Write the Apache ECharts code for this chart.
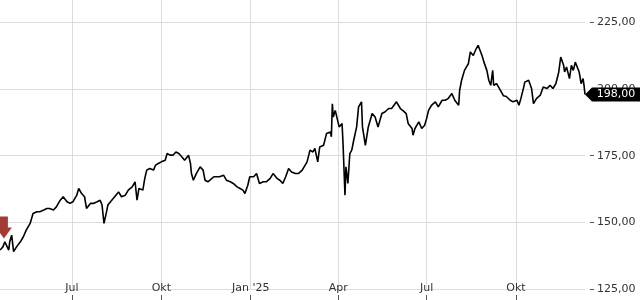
<!DOCTYPE html>
<html>
<head>
<meta charset="utf-8">
<script src="https://cdn.jsdelivr.net/npm/echarts@6/dist/echarts.min.js"></script>
<style>html,body{margin:0;padding:0;background:#fff}#c{width:640px;height:300px}</style>
</head>
<body>
<div id="c"></div>
<script>
const dates = [
'2024-04-18','2024-04-21','2024-04-23','2024-04-25','2024-04-27','2024-04-28','2024-04-30','2024-05-02','2024-05-05','2024-05-09',
'2024-05-12','2024-05-15','2024-05-19','2024-05-22','2024-05-26','2024-05-29','2024-06-02','2024-06-05','2024-06-08','2024-06-12',
'2024-06-15','2024-06-19','2024-06-22','2024-06-26','2024-06-29','2024-07-02','2024-07-06','2024-07-08','2024-07-11','2024-07-14',
'2024-07-16','2024-07-20','2024-07-23','2024-07-27','2024-07-30','2024-08-01','2024-08-03','2024-08-06','2024-08-07','2024-08-11',
'2024-08-14','2024-08-18','2024-08-21','2024-08-25','2024-08-28','2024-09-01','2024-09-04','2024-09-06','2024-09-08','2024-09-12',
'2024-09-14','2024-09-16','2024-09-19','2024-09-23','2024-09-25','2024-09-28','2024-10-01','2024-10-05','2024-10-07','2024-10-10',
'2024-10-13','2024-10-16','2024-10-19','2024-10-22','2024-10-25','2024-10-29','2024-10-31','2024-11-01','2024-11-03','2024-11-06',
'2024-11-10','2024-11-13','2024-11-15','2024-11-18','2024-11-20','2024-11-24','2024-11-27','2024-11-30','2024-12-04','2024-12-07',
'2024-12-11','2024-12-14','2024-12-18','2024-12-21','2024-12-24','2024-12-26','2024-12-29','2024-12-31','2025-01-04','2025-01-07',
'2025-01-10','2025-01-14','2025-01-17','2025-01-21','2025-01-24','2025-01-28','2025-01-31','2025-02-03','2025-02-06','2025-02-09',
'2025-02-12','2025-02-16','2025-02-19','2025-02-23','2025-02-28','2025-03-03','2025-03-06','2025-03-08','2025-03-11','2025-03-13',
'2025-03-17','2025-03-20','2025-03-24','2025-03-25','2025-03-26','2025-03-27','2025-03-29','2025-03-31','2025-04-02','2025-04-05',
'2025-04-06','2025-04-08','2025-04-09','2025-04-11','2025-04-13','2025-04-15','2025-04-17','2025-04-20','2025-04-22','2025-04-25',
'2025-04-26','2025-04-29','2025-05-02','2025-05-06','2025-05-09','2025-05-12','2025-05-16','2025-05-19','2025-05-23','2025-05-26',
'2025-05-31','2025-06-04','2025-06-07','2025-06-10','2025-06-12','2025-06-16','2025-06-17','2025-06-19','2025-06-23','2025-06-26',
'2025-06-29','2025-07-01','2025-07-03','2025-07-06','2025-07-10','2025-07-13','2025-07-17','2025-07-20','2025-07-23','2025-07-27',
'2025-07-30','2025-08-03','2025-08-04','2025-08-06','2025-08-09','2025-08-11','2025-08-13','2025-08-15','2025-08-18','2025-08-21',
'2025-08-23','2025-08-25','2025-08-27','2025-08-29','2025-09-01','2025-09-03','2025-09-05','2025-09-07','2025-09-08','2025-09-11',
'2025-09-15','2025-09-18','2025-09-21','2025-09-25','2025-09-28','2025-10-02','2025-10-04','2025-10-06','2025-10-09','2025-10-10',
'2025-10-14','2025-10-16','2025-10-17','2025-10-19','2025-10-22','2025-10-26','2025-10-29','2025-11-02','2025-11-05','2025-11-08',
'2025-11-11','2025-11-14','2025-11-16','2025-11-19','2025-11-20','2025-11-22','2025-11-25','2025-11-27','2025-11-29','2025-12-01',
'2025-12-03','2025-12-05','2025-12-07','2025-12-09','2025-12-10','2025-12-11'
];
const prices = [
139.6,140.8,142.7,143.4,139.6,142.7,145.2,139.0,140.8,142.7,
144.6,147.1,149.6,153.3,154.0,154.0,154.6,155.2,155.2,154.6,
155.8,158.3,159.6,157.7,157.1,157.7,160.2,162.7,160.8,159.6,
155.2,157.1,157.1,157.7,158.3,156.5,149.6,154.6,156.5,158.3,
159.6,161.4,159.6,160.2,162.1,163.3,165.2,158.3,162.7,162.1,
166.5,169.6,170.2,169.6,171.4,172.1,172.7,173.3,175.8,175.2,
175.2,176.4,175.8,174.6,173.3,175.2,172.1,168.3,165.8,168.3,
170.8,169.6,165.8,165.2,165.8,167.1,167.1,167.1,167.7,165.8,
165.2,164.6,163.3,162.7,162.1,160.8,163.9,167.1,167.1,168.3,
164.6,165.2,165.2,166.5,168.3,166.5,165.8,164.6,167.1,170.2,
168.9,168.3,168.3,169.6,172.7,177.1,176.4,177.7,172.7,178.3,
178.9,183.3,183.9,182.1,194.5,189.5,192.0,188.9,185.8,187.1,
179.6,160.2,170.8,164.6,175.8,177.1,180.8,185.8,193.3,195.2,
185.8,178.9,185.8,190.8,189.5,185.8,190.8,191.4,192.7,192.7,
195.2,192.7,191.8,190.8,187.1,185.2,182.7,185.2,187.7,185.2,
186.4,188.9,192.0,193.9,195.2,193.3,195.8,195.8,196.4,198.3,
195.8,193.9,199.5,203.3,207.0,208.3,209.5,213.9,212.6,215.1,
216.4,217.0,212.6,210.1,207.0,203.3,201.4,207.0,201.4,202.0,
199.5,197.5,197.2,195.8,195.2,195.8,193.9,196.4,200.8,202.6,
203.3,203.9,200.2,194.5,196.4,197.7,200.8,200.2,201.4,200.2,
202.0,206.4,212.0,208.9,206.4,208.3,203.9,208.9,207.0,210.1,
210.8,206.4,202.0,203.9,201.4,198.0
];
const xTickDates = ['2024-07-01','2024-10-01','2025-01-01','2025-04-01','2025-07-01','2025-10-01'];
const xTickLabels = ['Jul','Okt',"Jan '25",'Apr','Jul','Okt'];
const yTicks = [125,150,175,200,225];
const eventDates = ['2024-04-22'];
const eventValues = [148.1];

const FONT = 'DejaVu Sans';
const fmt = v => v.toFixed(2).replace('.', ',');
const ts = d => echarts.number.parseDate(d).getTime();
const times = dates.map(ts);
const lastTime = times[times.length - 1];
const lastValue = prices[prices.length - 1];
const tickTimes = xTickDates.map(ts);

const chart = echarts.init(document.getElementById('c'), null, {renderer: 'canvas'});
chart.setOption({
  animation: false,
  grid: {left: 0, right: 55, top: 0, bottom: 11, containLabel: false},
  xAxis: {
    type: 'value',
    min: times[0],
    max: lastTime,
    offset: 6,
    axisLine: {show: false},
    axisTick: {show: true, length: 5, customValues: tickTimes, lineStyle: {color: '#555', width: 1}},
    axisLabel: {
      customValues: tickTimes,
      margin: -12,
      color: '#333',
      fontFamily: FONT,
      fontSize: 11,
      formatter: function (value) {
        const i = tickTimes.indexOf(value);
        return i >= 0 ? xTickLabels[i] : '';
      }
    },
    splitLine: {show: true, lineStyle: {color: '#dcdcdc', width: 1}}
  },
  yAxis: {
    type: 'value',
    position: 'right',
    min: 125,
    max: 233.4,
    offset: 5,
    axisLine: {show: false},
    axisTick: {show: true, length: 4, customValues: yTicks, lineStyle: {color: '#555', width: 1}},
    axisLabel: {customValues: yTicks, margin: 7, color: '#333', fontFamily: FONT, fontSize: 11, formatter: v => fmt(v)},
    splitLine: {show: true, lineStyle: {color: '#dcdcdc', width: 1}}
  },
  series: [{
    type: 'line',
    data: times.map((t, i) => [t, prices[i]]),
    showSymbol: false,
    symbol: 'none',
    lineStyle: {color: '#000', width: 1.6},
    clip: false,
    markPoint: {
      animation: false,
      data: [
        {
          coord: [lastTime, lastValue],
          symbol: 'path://M0,7 L7,0 L56,0 L56,14 L7,14 Z',
          symbolSize: [56, 14],
          symbolOffset: [28, 0],
          symbolKeepAspect: false,
          itemStyle: {color: '#000'},
          label: {show: true, position: 'inside', offset: [3, 0], color: '#fff', fontFamily: FONT, fontSize: 11, formatter: fmt(lastValue)}
        },
        {
          coord: [ts(eventDates[0]), eventValues[0]],
          symbol: 'path://M4,0 L12,0 L12,11 L16,11 L8,22 L0,11 L4,11 Z',
          symbolSize: [16, 22],
          itemStyle: {color: '#a33b34'},
          label: {show: false}
        }
      ]
    }
  }]
});
</script>
</body>
</html>
